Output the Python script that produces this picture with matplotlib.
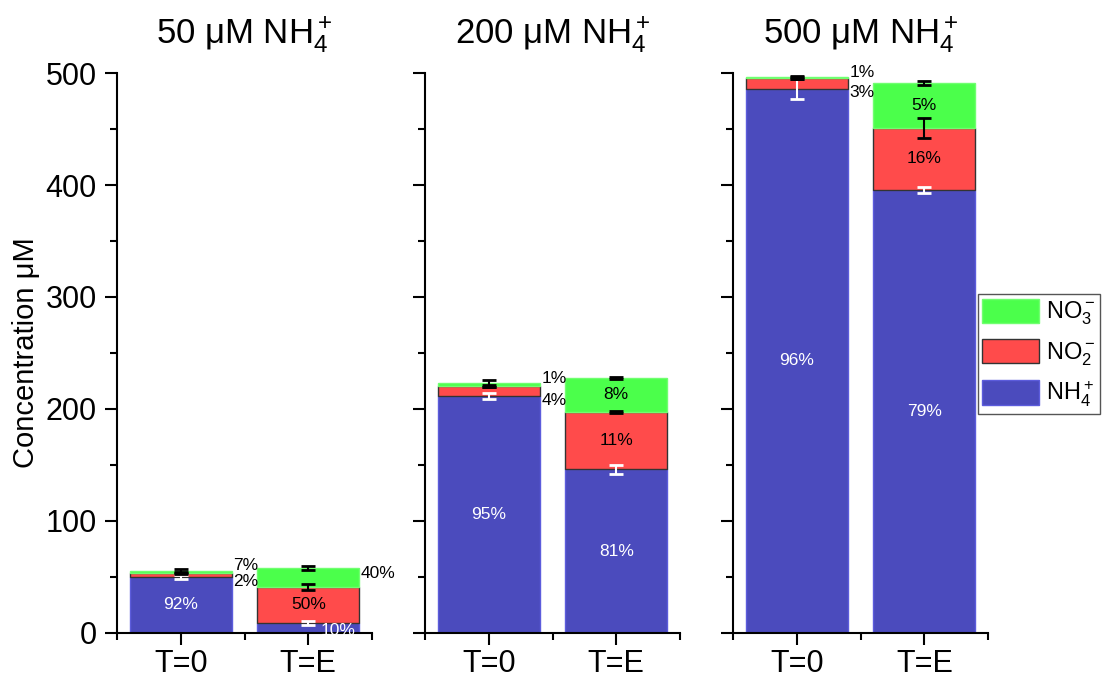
import numpy as np
import matplotlib.pyplot as plt
from matplotlib.patches import Patch

plt.rcParams["font.family"] = ["Liberation Sans", "DejaVu Sans"]
plt.rcParams["mathtext.fontset"] = "custom"
plt.rcParams["mathtext.rm"] = "Liberation Sans"
plt.rcParams["mathtext.it"] = "Liberation Sans:italic"

# data
categories = ["T=0", "T=E"]
panelTitles = [r"50 μM NH$_4^+$", r"200 μM NH$_4^+$", r"500 μM NH$_4^+$"]
nh4 = [[50.0, 9.0], [211.5, 146.0], [486.0, 395.5]]
no2 = [[3.5, 32.0], [9.0, 51.0], [9.5, 55.5]]
no3 = [[2.0, 17.0], [2.5, 31.0], [0.5, 40.0]]
nh4Err = [[1.5, 1.5], [3.0, 4.0], [9.0, 3.0]]
no2Err = [[1.0, 3.0], [1.0, 1.0], [1.0, 9.0]]
no3Err = [[2.0, 2.0], [3.0, 1.0], [1.0, 2.0]]
# percent labels per panel, per bar: (nh4, no2, no3)
pctLabels = [
    [("92%", "2%", "7%"), ("10%", "50%", "40%")],
    [("95%", "4%", "1%"), ("81%", "11%", "8%")],
    [("96%", "3%", "1%"), ("79%", "16%", "5%")],
]
# where each label goes: "in" centred in segment, "low"/"high" beside the bar, "side" beside at segment centre
pctModes = [
    [("in", "low", "high"), ("inr", "in", "side")],
    [("in", "low", "high"), ("in", "in", "in")],
    [("in", "low", "high"), ("in", "in", "in")],
]

blue = "#4b4bbd"
red = "#ff4b4b"
green = "#4bff4b"

fig = plt.figure(figsize=(11.04, 6.81), dpi=100)
lefts = [0.106, 0.385, 0.664]
x = np.arange(1, len(categories) + 1)
width = 0.8
pctSize = 12.5

for p, left in enumerate(lefts):
    ax = fig.add_axes([left, 0.0705, 0.231, 0.8223])
    a = np.array(nh4[p])
    b = np.array(no2[p])
    c = np.array(no3[p])
    ax.bar(x, a, width, color=blue, edgecolor="#5c5cdc", linewidth=1, zorder=2)
    ax.bar(x, b, width, bottom=a, color=red, edgecolor="#333333", linewidth=1, zorder=2)
    ax.bar(x, c, width, bottom=a + b, color=green, edgecolor="#70ff70", linewidth=1, zorder=2)

    ax.errorbar(x, a, yerr=nh4Err[p], fmt="none", ecolor="white", elinewidth=1.5,
                capsize=5, capthick=2, zorder=4)
    ax.errorbar(x, a + b, yerr=no2Err[p], fmt="none", ecolor="black", elinewidth=1.5,
                capsize=5, capthick=2, zorder=4)
    ax.errorbar(x, a + b + c, yerr=no3Err[p], fmt="none", ecolor="black", elinewidth=1.5,
                capsize=5, capthick=2, zorder=4)

    for i in range(len(categories)):
        bottoms = [0, a[i], a[i] + b[i]]
        heights = [a[i], b[i], c[i]]
        for s in range(3):
            text = pctLabels[p][i][s]
            mode = pctModes[p][i][s]
            color = "white" if s == 0 else "black"
            mid = bottoms[s] + heights[s] / 2
            if mode == "in":
                ax.annotate(text, (x[i], mid), ha="center", va="center",
                            fontsize=pctSize, color=color, zorder=5)
            elif mode == "inr":
                ax.annotate(text, (x[i], mid), xytext=(9, -2), textcoords="offset points",
                            ha="left", va="center", fontsize=pctSize, color=color, zorder=5)
            elif mode == "side":
                ax.annotate(text, (x[i] + width / 2, mid), xytext=(1, 3), textcoords="offset points",
                            ha="left", va="center", fontsize=pctSize, color="black", zorder=5)
            elif mode == "low":
                ax.annotate(text, (x[i] + width / 2, a[i]), xytext=(1, -3), textcoords="offset points",
                            ha="left", va="center", fontsize=pctSize, color="black", zorder=5)
            else:
                ax.annotate(text, (x[i] + width / 2, a[i] + b[i] + c[i]),
                            xytext=(1, 3.5), textcoords="offset points",
                            ha="left", va="center", fontsize=pctSize, color="black", zorder=5)

    ax.set_xlim(0.5, 2.5)
    ax.set_ylim(0, 500)
    ax.set_xticks(x, categories)
    ax.set_xticks([0.5, 1.5, 2.5], minor=True)
    ax.set_yticks(np.arange(0, 501, 100))
    ax.set_yticks(np.arange(50, 501, 100), minor=True)
    ax.tick_params(which="major", direction="out", length=8.5, width=1.5, labelsize=22)
    ax.tick_params(which="minor", direction="out", length=5, width=1.5)
    ax.tick_params(axis="y", pad=6)
    ax.tick_params(axis="x", pad=3)
    ax.spines["top"].set_visible(False)
    ax.spines["right"].set_visible(False)
    ax.spines["left"].set_linewidth(1.5)
    ax.spines["bottom"].set_linewidth(1.5)
    if p > 0:
        ax.tick_params(axis="y", labelleft=False)
    else:
        ax.set_ylabel("Concentration μM", fontsize=21, labelpad=4)
    ax.set_title(panelTitles[p], fontsize=25, pad=21)

handles = [
    Patch(facecolor=green, edgecolor="#70ff70", label=r"NO$_3^-$"),
    Patch(facecolor=red, edgecolor="#333333", label=r"NO$_2^-$"),
    Patch(facecolor=blue, edgecolor="#5c5cdc", label=r"NH$_4^+$"),
]
leg = fig.legend(handles=handles, loc="upper right", bbox_to_anchor=(1100 / 1104, 1 - 294 / 681),
                 fontsize=17, fancybox=False, edgecolor="#555555", framealpha=1,
                 handlelength=2.4, handleheight=1.2, borderpad=0.2, labelspacing=0.5,
                 handletextpad=0.3, borderaxespad=0)
leg.get_frame().set_linewidth(1)

fig.savefig("out.png", dpi=100)
